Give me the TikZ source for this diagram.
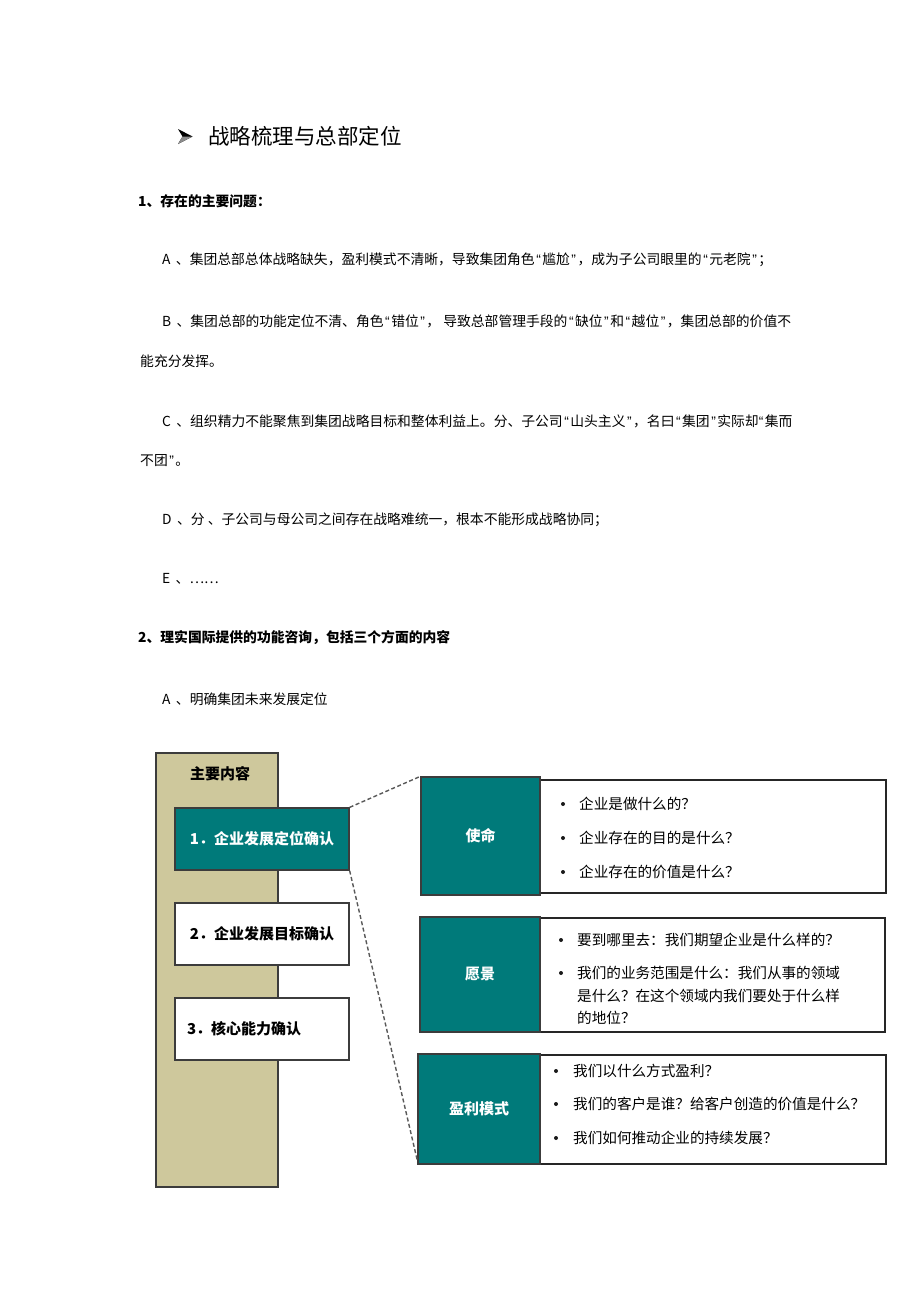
\documentclass[tikz,border=0pt]{standalone}
\usepackage{fontspec}
\setmainfont{Noto Sans CJK SC}
\newfontfamily\latinf{Liberation Sans}
\newcommand\myq[1]{\kern1.5pt{\latinf “}\kern1.5pt#1\kern1.5pt{\latinf ”}\kern1.5pt}
\definecolor{tealc}{RGB}{0,122,122}
\definecolor{khakic}{RGB}{206,200,156}
\definecolor{edgec}{RGB}{60,60,60}
\tikzset{
  body/.style={anchor=west,inner sep=0pt,font=\fontsize{13.8}{16}\selectfont},
  head/.style={anchor=west,inner sep=0pt,font=\fontsize{13.8}{16}\selectfont\bfseries},
  leftbox/.style={draw=edgec,line width=1.3pt,minimum width=174pt,minimum height=62pt,inner sep=0pt,font=\fontsize{15}{18}\selectfont\bfseries},
  tealbox/.style={draw=edgec,fill=tealc,line width=1.3pt,inner sep=0pt,text=white,font=\fontsize{15}{18}\selectfont\bfseries},
  whitebox/.style={draw=black!85,fill=white,line width=1.3pt,inner sep=0pt},
  item/.style={anchor=west,inner sep=0pt,font=\fontsize{14.6}{22.7}\selectfont,align=left},
  dot/.style={circle,fill=black!90,inner sep=0pt,minimum size=4pt},
  link/.style={dash pattern=on 4pt off 2.5pt,draw=black!65,line width=1.4pt}
}
\begin{document}
\begin{tikzpicture}[x=1pt,y=-1pt]
\useasboundingbox[fill=white] (0,0) rectangle (920,1302);

% title bullet (3-D arrowhead)
\fill[black] (178,129) -- (192.5,136.5) -- (178,144) -- (182.5,136.5) -- cycle;
\fill[black!45] (182.5,136.5) -- (192.5,136.5) -- (178,144) -- cycle;
\node[anchor=west,inner sep=0pt,font=\fontsize{21.5}{24}\selectfont] (title) at (208,136) {战略梳理与总部定位};

% section 1
\node[head] (s1) at (138,201) {1、存在的主要问题：};
\node[body] (pa) at (162,260) {A \,、集团总部总体战略缺失，盈利模式不清晰，导致集团角色\myq{尴尬}，成为子公司眼里的\myq{元老院}；};
\node[body] (pb) at (162,321) {B \,、集团总部的功能定位不清、角色\myq{错位}， 导致总部管理手段的\myq{缺位}和\myq{越位}，集团总部的价值不};
\node[body] (pb2) at (140,361) {能充分发挥。};
\node[body] (pc) at (162,421) {C \,、组织精力不能聚焦到集团战略目标和整体利益上。分、子公司\myq{山头主义}，名曰\myq{集团}实际却{\latinf “}\kern1.5pt集而};
\node[body] (pc2) at (140,461) {不团\kern1.5pt{\latinf ”}\kern1.5pt。};
\node[body] (pd) at (162,520) {D \,、分 、子公司与母公司之间存在战略难统一，根本不能形成战略协同；};
\node[body] (pe) at (162,579) {E \,、……};

% section 2
\node[head] (s2) at (138,638) {2、理实国际提供的功能咨询，包括三个方面的内容};
\node[body] (p2a) at (162,699) {A \,、明确集团未来发展定位};

% left panel
\node[draw=edgec,fill=khakic,line width=1.3pt,minimum width=122pt,minimum height=434pt,inner sep=0pt] (panel) at (217,970) {};
\node[inner sep=0pt,font=\fontsize{15}{18}\selectfont\bfseries] (ptitle) at (220,774) {主要内容};
\node[leftbox,fill=tealc,text=white] (b1) at (262,839) {1．企业发展定位确认};
\node[leftbox,fill=white] (b2) at (262,934) {2．企业发展目标确认};
\node[leftbox,fill=white,text width=150pt,align=left] (b3) at (262,1029) {3．核心能力确认};

% group 1: mission
\node[whitebox,minimum width=346pt,minimum height=113pt] (m1w) at (713,836.5) {};
\node[tealbox,minimum width=119pt,minimum height=118pt] (m1) at (480.5,836) {使命};
\node[dot] (m1d1) at (563,804) {};
\node[dot] (m1d2) at (563,838) {};
\node[dot] (m1d3) at (563,872) {};
\node[item] (m1t1) at (579,804) {企业是做什么的？};
\node[item] (m1t2) at (579,838) {企业存在的目的是什么？};
\node[item] (m1t3) at (579,872) {企业存在的价值是什么？};

% group 2: vision
\node[whitebox,minimum width=345pt,minimum height=114pt] (v1w) at (712.5,975) {};
\node[tealbox,minimum width=120pt,minimum height=115pt] (v1) at (480,974.5) {愿景};
\node[dot] (v1d1) at (561,940) {};
\node[dot] (v1d2) at (561,973) {};
\node[item] (v1t1) at (577,940) {要到哪里去：我们期望企业是什么样的？};
\node[item,anchor=north west] (v1t2) at (577,966) {我们的业务范围是什么：我们从事的领域\\是什么？在这个领域内我们要处于什么样\\的地位？};

% group 3: profit model
\node[whitebox,minimum width=346pt,minimum height=109pt] (p1w) at (713,1109.5) {};
\node[tealbox,minimum width=122pt,minimum height=110pt] (p1) at (479,1109) {盈利模式};
\node[dot] (p1d1) at (556,1071) {};
\node[dot] (p1d2) at (556,1104) {};
\node[dot] (p1d3) at (556,1138) {};
\node[item] (p1t1) at (573,1071) {我们以什么方式盈利？};
\node[item] (p1t2) at (573,1104) {我们的客户是谁？给客户创造的价值是什么？};
\node[item] (p1t3) at (573,1138) {我们如何推动企业的持续发展？};

% connectors
\draw[link] (b1.north east) -- (m1.north west);
\draw[link] (b1.south east) -- ([yshift=4pt]p1.south west);
\end{tikzpicture}
\end{document}
